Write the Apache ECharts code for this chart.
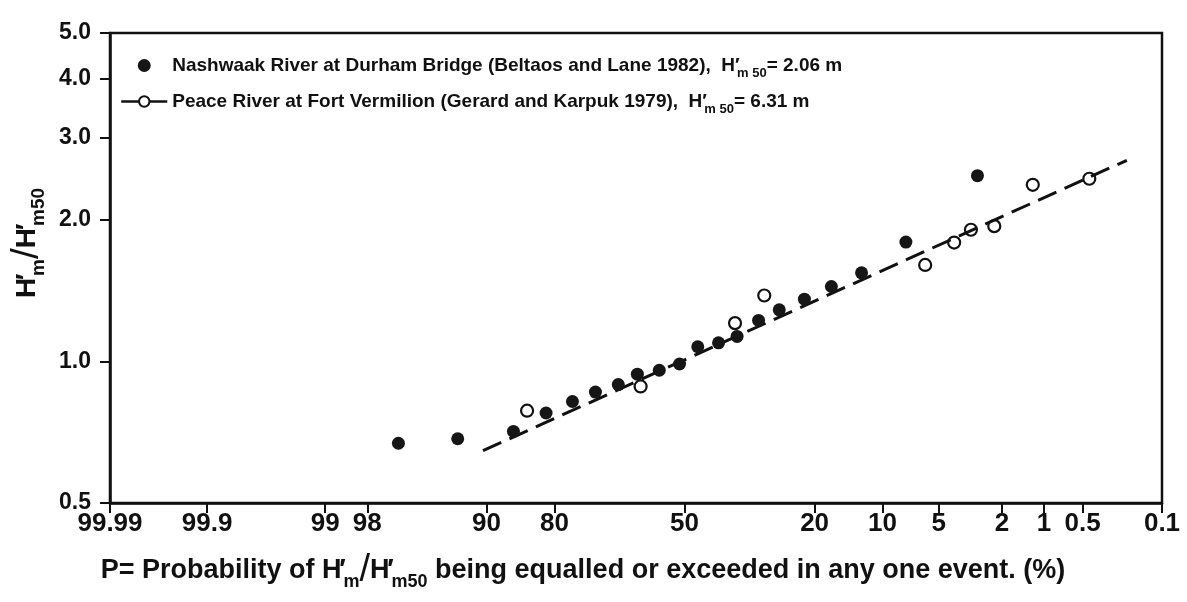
<!DOCTYPE html>
<html>
<head>
<meta charset="utf-8">
<script src="https://cdn.jsdelivr.net/npm/echarts@6/dist/echarts.min.js"></script>
<style>
  html, body { margin: 0; padding: 0; background: #fff; }
  #chart { width: 1187px; height: 602px; }
</style>
</head>
<body>
<div id="chart"></div>
<script>
// exceedance probability P (%) and H'm/H'm50
const nashwaakP = [96.8, 92.9, 86.6, 81.5, 76.6, 71.8, 66.6, 62.0, 56.5, 51.3, 46.6, 41.3, 36.7, 31.6, 27.0, 21.9, 17.1, 12.6, 7.6, 2.9]
const nashwaakH = [0.67, 0.685, 0.71, 0.777, 0.822, 0.861, 0.893, 0.94, 0.958, 0.988, 1.075, 1.096, 1.131, 1.223, 1.288, 1.357, 1.444, 1.544, 1.795, 2.485]

const peaceP = [84.6, 61.2, 37.2, 30.3, 5.97, 4.05, 3.19, 2.25, 1.21, 0.44]
const peaceH = [0.786, 0.885, 1.207, 1.382, 1.605, 1.791, 1.907, 1.941, 2.377, 2.448]

// fitted (dashed) line end points
const fitP = [90.4, 0.21]
const fitH = [0.646, 2.68]

const probTicks = [99.99, 99.9, 99, 98, 90, 80, 50, 20, 10, 5, 2, 1, 0.5, 0.1]
const ratioTicks = [0.5, 1, 2, 3, 4, 5]

const FONT = '"Liberation Sans", Arial, sans-serif'
const INK = '#111'

// inverse of the standard normal cdf (Acklam)
function normInv(p) {
  const a = [-39.69683028665376, 220.9460984245205, -275.9285104469687, 138.3577518672690, -30.66479806614716, 2.506628277459239]
  const b = [-54.47609879822406, 161.5858368580409, -155.6989798598866, 66.80131188771972, -13.28068155288572]
  const c = [-0.007784894002430293, -0.3223964580411365, -2.400758277161838, -2.549671058242580, 4.374664141464968, 2.938163982698783]
  const d = [0.007784695709041462, 0.3224671290700398, 2.445134137142996, 3.754408661907416]
  const plow = 0.02425
  let q, r
  if (p < plow) {
    q = Math.sqrt(-2 * Math.log(p))
    return (((((c[0] * q + c[1]) * q + c[2]) * q + c[3]) * q + c[4]) * q + c[5]) /
      ((((d[0] * q + d[1]) * q + d[2]) * q + d[3]) * q + 1)
  }
  if (p > 1 - plow) {
    q = Math.sqrt(-2 * Math.log(1 - p))
    return -(((((c[0] * q + c[1]) * q + c[2]) * q + c[3]) * q + c[4]) * q + c[5]) /
      ((((d[0] * q + d[1]) * q + d[2]) * q + d[3]) * q + 1)
  }
  q = p - 0.5
  r = q * q
  return (((((a[0] * r + a[1]) * r + a[2]) * r + a[3]) * r + a[4]) * r + a[5]) * q /
    (((((b[0] * r + b[1]) * r + b[2]) * r + b[3]) * r + b[4]) * r + 1)
}

// probability paper: exceedance % -> normal deviate
function probit(P) {
  return normInv(1 - P / 100)
}

const probZ = probTicks.map(probit)

function probLabel(z) {
  let best = 0
  probZ.forEach((v, i) => {
    if (Math.abs(v - z) < Math.abs(probZ[best] - z)) best = i
  })
  return String(probTicks[best])
}

// rich text styles for H'm / H'm50
function richSet(size) {
  const L = Math.round(size * 1.5)
  const sub = Math.round(size * 0.68)
  const base = { fontFamily: FONT, fontWeight: 'bold', color: INK }
  return {
    t: { ...base, fontSize: size, lineHeight: L },
    p: { ...base, fontSize: size, lineHeight: L, width: 2 },
    s: { ...base, fontSize: sub, lineHeight: Math.round(sub * 1.3), verticalAlign: 'bottom' },
    sl: { ...base, fontWeight: 'normal', fontSize: Math.round(size * 1.4), lineHeight: L },
  }
}
const ratioText = '{t|H}{p|′}{s|m}{sl|/}{t|H}{p|′}{s|m50}'

const legendText = {
  Nashwaak: '{t|Nashwaak River at Durham Bridge (Beltaos and Lane 1982),  H}{p|′}{s|m 50}{t|= 2.06 m}',
  Peace: '{t|Peace River at Fort Vermilion (Gerard and Karpuk 1979),  H}{p|′}{s|m 50}{t|= 6.31 m}',
}

const chart = echarts.init(document.getElementById('chart'))

const option = {
  backgroundColor: '#fff',
  animation: false,
  grid: {
    left: 110,
    right: 25,
    top: 33,
    bottom: 99,
    outerBoundsMode: 'none',
    show: true,
    borderColor: INK,
    borderWidth: 2.5,
  },
  legend: {
    left: 115,
    top: 51,
    orient: 'vertical',
    itemWidth: 46,
    itemHeight: 13,
    itemGap: 12,
    data: [
      { name: 'Nashwaak' },
      {
        name: 'Peace',
        lineStyle: { opacity: 1, color: INK, width: 2.5, type: 'solid' },
        itemStyle: { color: '#fff', borderColor: INK, borderWidth: 2 },
      },
    ],
    formatter: (name) => legendText[name],
    textStyle: { rich: richSet(19) },
  },
  xAxis: {
    type: 'value',
    min: probZ[0],
    max: probZ[probZ.length - 1],
    name: '{t|P= Probability of }' + ratioText + '{t| being equalled or exceeded in any one event. (%)}',
    nameLocation: 'middle',
    nameGap: 47,
    nameTextStyle: { rich: richSet(27), padding: [0, 106, 0, 0] },
    axisLine: { onZero: false, lineStyle: { color: INK, width: 2.5 } },
    axisTick: { customValues: probZ, length: 10, lineStyle: { color: INK, width: 2 } },
    axisLabel: {
      customValues: probZ,
      formatter: (v) => probLabel(v),
      color: INK,
      fontFamily: FONT,
      fontWeight: 'bold',
      fontSize: 26,
      margin: 8,
    },
    splitLine: { show: false },
  },
  yAxis: {
    type: 'log',
    logBase: 10,
    min: 0.5,
    max: 5,
    name: ratioText,
    nameLocation: 'middle',
    nameRotate: 90,
    nameGap: 45,
    nameTextStyle: { rich: richSet(28), padding: [0, 0, 0, 50] },
    axisLine: { onZero: false, lineStyle: { color: INK, width: 2.5 } },
    axisTick: { customValues: ratioTicks, length: 10, lineStyle: { color: INK, width: 2 } },
    axisLabel: {
      customValues: ratioTicks,
      formatter: (v) => Number(v).toFixed(1),
      color: INK,
      fontFamily: FONT,
      fontWeight: 'bold',
      fontSize: 23,
      margin: 19,
    },
    splitLine: { show: false },
  },
  series: [
    {
      name: 'fit',
      type: 'line',
      data: fitP.map((p, i) => [probit(p), fitH[i]]),
      symbol: 'none',
      silent: true,
      z: 1,
      lineStyle: { color: INK, width: 3, type: [20, 9] },
    },
    {
      name: 'Nashwaak',
      type: 'scatter',
      data: nashwaakP.map((p, i) => [probit(p), nashwaakH[i]]),
      symbol: 'circle',
      symbolSize: 13,
      z: 3,
      itemStyle: { color: '#161616', opacity: 1 },
    },
    {
      name: 'Peace',
      type: 'line',
      data: peaceP.map((p, i) => [probit(p), peaceH[i]]),
      symbol: 'circle',
      symbolSize: 12,
      showSymbol: true,
      z: 3,
      lineStyle: { opacity: 0 },
      itemStyle: { color: 'rgba(255,255,255,0)', borderColor: INK, borderWidth: 2.2 },
    },
  ],
}

chart.setOption(option)
</script>
</body>
</html>
